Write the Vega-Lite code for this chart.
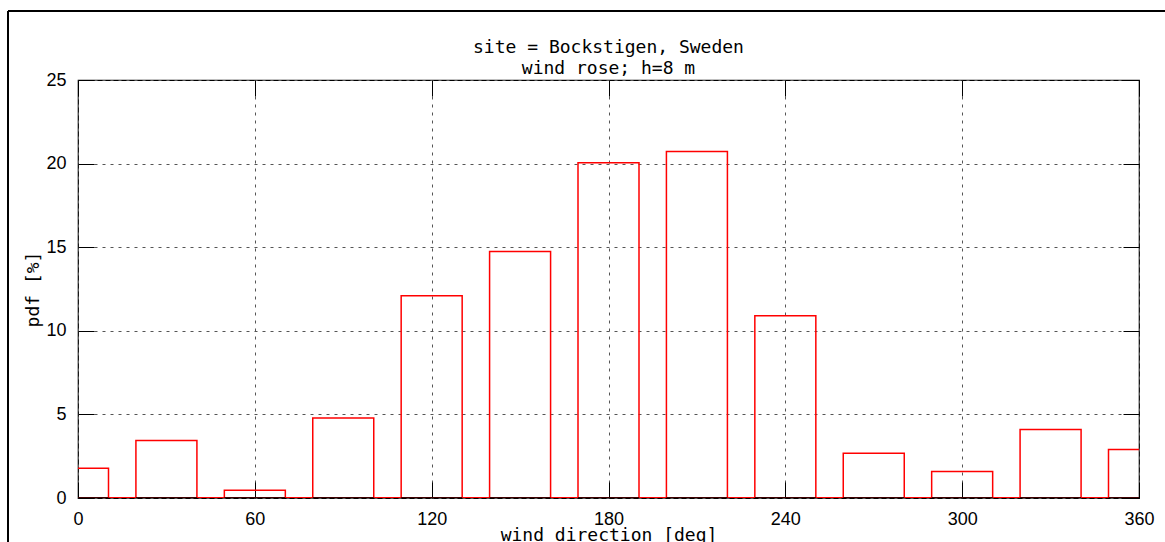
{
  "$schema": "https://vega.github.io/schema/vega-lite/v6.json",
  "width": 1061,
  "height": 418,
  "autosize": {"type": "none"},
  "padding": {"left": 78, "top": 80, "right": 26, "bottom": 44},
  "background": "white",
  "title": {
    "text": ["site = Bockstigen, Sweden", "wind rose; h=8 m"],
    "font": "DejaVu Sans Mono",
    "fontSize": 18,
    "fontWeight": "normal",
    "lineHeight": 21,
    "anchor": "middle",
    "frame": "group",
    "baseline": "bottom",
    "offset": 1,
    "dy": 87,
    "color": "#000000"
  },
  "config": {
    "view": {"stroke": "#000000", "strokeWidth": 1.2},
    "axis": {
      "domain": false,
      "labelFont": "Liberation Sans",
      "labelFontSize": 18,
      "labelColor": "#000000",
      "titleFont": "DejaVu Sans Mono",
      "titleFontSize": 18,
      "titleFontWeight": "normal",
      "titleColor": "#000000",
      "tickColor": "#000000",
      "tickWidth": 1,
      "tickSize": -16,
      "labelPadding": 28,
      "labelFlush": false,
      "gridColor": "#555555",
      "gridDash": [3, 5],
      "gridWidth": 1,
      "gridOpacity": 1
    }
  },
  "data": {
    "values": [
      {"dir": 0, "pdf": 1.78},
      {"dir": 30, "pdf": 3.44},
      {"dir": 60, "pdf": 0.46},
      {"dir": 90, "pdf": 4.78},
      {"dir": 120, "pdf": 12.1},
      {"dir": 150, "pdf": 14.75},
      {"dir": 180, "pdf": 20.05},
      {"dir": 210, "pdf": 20.72},
      {"dir": 240, "pdf": 10.9},
      {"dir": 270, "pdf": 2.68},
      {"dir": 300, "pdf": 1.58},
      {"dir": 330, "pdf": 4.1},
      {"dir": 360, "pdf": 2.9}
    ]
  },
  "layer": [
    {
      "mark": {"type": "bar", "fill": null, "fillOpacity": 0, "stroke": "#ff0000", "strokeWidth": 1.5, "size": 61, "clip": true, "orient": "vertical"},
      "encoding": {
        "x": {
          "field": "dir", "type": "quantitative",
          "scale": {"domain": [0, 360], "nice": false, "zero": false, "padding": 0},
          "axis": {"orient": "bottom", "values": [0, 60, 120, 180, 240, 300, 360], "grid": true, "labelFlush": false, "title": "wind direction [deg]", "titleY": 37, "titleBaseline": "middle", "titleAnchor": "middle"}
        },
        "y": {
          "field": "pdf", "type": "quantitative",
          "scale": {"domain": [0, 25], "nice": false, "padding": 0},
          "axis": {"orient": "left", "values": [0, 5, 10, 15, 20, 25], "grid": true, "labelFlush": false, "title": "pdf [%]", "titleAngle": 270, "titleX": -45, "titleY": 209, "titleBaseline": "middle", "titleAlign": "center"}
        }
      }
    },
    {
      "mark": {"type": "rule", "color": "#ff0000", "strokeWidth": 1.5, "clip": true},
      "encoding": {
        "x": {"datum": 0, "type": "quantitative", "scale": {"domain": [0, 360], "nice": false, "zero": false, "padding": 0}, "axis": null},
        "x2": {"datum": 360},
        "y": {"datum": 0, "type": "quantitative", "scale": {"domain": [0, 25], "nice": false, "padding": 0}, "axis": null}
      }
    },
    {
      "mark": {"type": "tick", "color": "#000000", "orient": "horizontal", "thickness": 1.5, "size": 61, "clip": true, "opacity": 1},
      "encoding": {
        "x": {"field": "dir", "type": "quantitative", "scale": {"domain": [0, 360], "nice": false, "zero": false, "padding": 0}, "axis": null},
        "y": {"datum": 0, "type": "quantitative", "scale": {"domain": [0, 25], "nice": false, "padding": 0}, "axis": null}
      }
    },
    {
      "mark": {"type": "point", "opacity": 0},
      "encoding": {
        "x": {
          "field": "dir", "type": "quantitative",
          "scale": {"domain": [0, 360], "nice": false, "zero": false, "padding": 0},
          "axis": {"orient": "top", "values": [0, 60, 120, 180, 240, 300, 360], "grid": false, "labels": false, "title": null}
        },
        "y": {
          "field": "pdf", "type": "quantitative",
          "scale": {"domain": [0, 25], "nice": false, "padding": 0},
          "axis": {"orient": "right", "values": [0, 5, 10, 15, 20, 25], "grid": false, "labels": false, "title": null}
        }
      }
    },
    {
      "mark": {"type": "rule", "color": "#000000", "strokeWidth": 1.5, "clip": false},
      "encoding": {
        "x": {"datum": -23.75, "type": "quantitative", "scale": {"domain": [0, 360], "nice": false, "zero": false, "padding": 0}, "axis": null},
        "x2": {"datum": 420},
        "y": {"datum": 29.13, "type": "quantitative", "scale": {"domain": [0, 25], "nice": false, "padding": 0}, "axis": null}
      }
    },
    {
      "mark": {"type": "rule", "color": "#000000", "strokeWidth": 1.5, "clip": false},
      "encoding": {
        "x": {"datum": -23.75, "type": "quantitative", "scale": {"domain": [0, 360], "nice": false, "zero": false, "padding": 0}, "axis": null},
        "y": {"datum": 29.13, "type": "quantitative", "scale": {"domain": [0, 25], "nice": false, "padding": 0}, "axis": null},
        "y2": {"datum": -5}
      }
    }
  ],
  "resolve": {"axis": {"x": "independent", "y": "independent"}}
}
